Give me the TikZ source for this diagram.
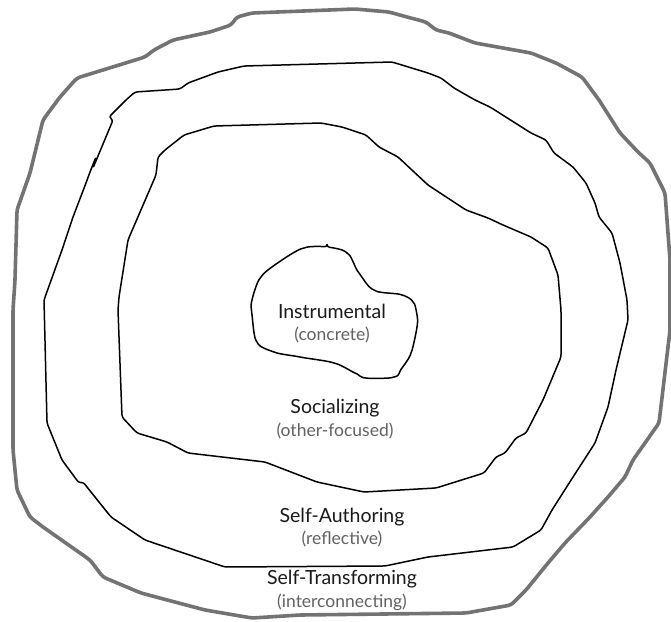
\documentclass[tikz,border=0pt]{standalone}
\usepackage{fontspec}
\setmainfont{Lato}
\usepackage{tikz}
\tikzstyle{stage} = [text=black!90, font=\fontsize{19.5}{22}\selectfont, inner sep=0pt, text height=14pt, text depth=4pt]
\tikzstyle{detail} = [text=black!62, font=\fontsize{17.5}{20}\selectfont, inner sep=0pt, text height=12pt, text depth=3.5pt]
\tikzstyle{outline} = [draw=black!55, line width=3.6pt, line join=round, rounded corners=3pt]
\tikzstyle{ring} = [draw=black, line width=1.5pt, line join=round, rounded corners=2.5pt]

\begin{document}
\begin{tikzpicture}[x=1pt, y=-1pt, node distance=24pt]
\useasboundingbox (0,0) rectangle (671,621);

% Self-Transforming (outer border)
\draw [outline] (77,78) -- (145,57) -- (154,50) -- (173,40) -- (210,32) -- (231,25) -- (237,17) -- (252,13)
  -- (355,9) -- (389,12) -- (407,17) -- (426,22) -- (436,30) -- (449,33) -- (475,43) -- (531,53) -- (556,63)
  -- (582,77) -- (599,100) -- (620,133) -- (638,152) -- (650,163) -- (665,193) -- (670,260) -- (670,330)
  -- (659,423) -- (633,460) -- (625,477) -- (608,497) -- (590,517) -- (565,543) -- (548,563) -- (526,590)
  -- (511,605) -- (466,613) -- (300,615) -- (252,618) -- (205,610) -- (141,593) -- (103,577) -- (90,560)
  -- (43,527) -- (30,517) -- (17,490) -- (13,450) -- (13,310) -- (15,280) -- (17,210) -- (30,173)
  -- (43,120) -- (60,97) -- cycle;

% Self-Authoring
\draw [ring] (135,92) -- (180,89) -- (188,83) -- (218,72) -- (244,66) -- (392,62) -- (428,73) -- (441,78)
  -- (454,88) -- (475,100) -- (490,107) -- (531,133) -- (546,140) -- (554,153) -- (573,167) -- (586,183)
  -- (595,203) -- (599,217) -- (612,233) -- (620,263) -- (627,300) -- (628,320) -- (616,370) -- (608,407)
  -- (595,443) -- (573,477) -- (552,510) -- (541,530) -- (513,547) -- (428,557) -- (385,566) -- (225,567)
  -- (145,540) -- (111,517) -- (83,482) -- (79,483) -- (62,460) -- (47,423) -- (44,300) -- (62,250)
  -- (73,217) -- (86,183) -- (90,172) -- (96,157) -- (93,168) -- (113,120) -- (109,117) -- (116,110)
  -- (126,100) -- cycle;

% Socializing
\draw [ring] (214,126) -- (321,123) -- (342,127) -- (366,135) -- (379,147) -- (398,157) -- (428,185)
  -- (466,210) -- (488,218) -- (503,225) -- (531,237) -- (548,248) -- (558,275) -- (561,310) -- (561,357)
  -- (543,400) -- (526,433) -- (516,438) -- (505,453) -- (496,457) -- (484,473) -- (436,488) -- (364,492)
  -- (317,482) -- (265,462) -- (188,453) -- (167,442) -- (137,433) -- (122,417) -- (118,310) -- (119,297)
  -- (128,240) -- (156,175) -- (158,157) -- (165,150) -- (184,135) -- cycle;

% Instrumental (core)
\draw [ring] plot [smooth cycle, tension=0.5] coordinates {(304,248) (327,247) (347,253) (359,273) (374,290)
  (402,295) (413,302) (417,315) (417,327) (411,353) (402,368) (394,377) (366,378) (355,373) (334,363)
  (300,357) (274,352) (257,342) (252,315) (252,300) (261,277) (282,260)};

% Labels
\node (I) [stage] at (332,313) {Instrumental};
\node (Id) [detail, below of=I, yshift=1pt] {(concrete)};
\node (So) [stage] at (335,408) {Socializing};
\node (Sod) [detail, below of=So] {(other-focused)};
\node (SA) [stage] at (342,517) {Self-Authoring};
\node (SAd) [detail, below of=SA, yshift=1pt] {(reflective)};
\node (ST) [stage] at (342,579) {Self-Transforming};
\node (STd) [detail, below of=ST] {(interconnecting)};

\end{tikzpicture}
\end{document}
